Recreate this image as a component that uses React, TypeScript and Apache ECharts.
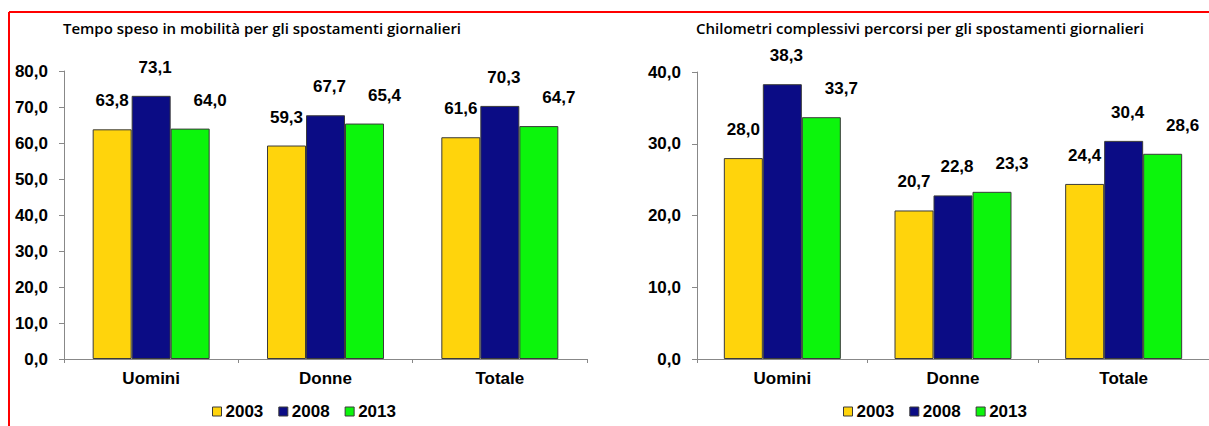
import React, { useEffect, useRef } from "react";
import * as echarts from "echarts";

const categories = ["Uomini", "Donne", "Totale"];
const years = ["2003", "2008", "2013"];

// Tempo speso in mobilità (minuti)
const tempo2003 = [63.8, 59.3, 61.6];
const tempo2008 = [73.1, 67.7, 70.3];
const tempo2013 = [64.0, 65.4, 64.7];

// Chilometri complessivi percorsi
const km2003 = [28.0, 20.7, 24.4];
const km2008 = [38.3, 22.8, 30.4];
const km2013 = [33.7, 23.3, 28.6];

const titleLeft = "Tempo speso in mobilità per gli spostamenti giornalieri";
const titleRight = "Chilometri complessivi percorsi per gli spostamenti giornalieri";

const colors = ["#FFD40C", "#0B0C85", "#0CF50C"];
const labelOffsets = [[0, 0], [4, 0], [20, 0]];

const fmt = (v: number) => v.toFixed(1).replace(".", ",");
const FONT = "'Liberation Sans', Arial, sans-serif";
const TITLE_FONT = "'Open Sans', 'Noto Sans', sans-serif";

export default function App() {
  const ref = useRef<HTMLDivElement>(null);

  useEffect(() => {
    if (!ref.current) return;
    const chart = echarts.init(ref.current, null, { renderer: "svg" });

    const textBold = { color: "#000", fontFamily: FONT, fontWeight: "bold" as const, fontSize: 17 };

    const makeX = (gridIndex: number) => ({
      type: "category" as const,
      gridIndex,
      data: categories,
      boundaryGap: true,
      axisLine: { show: true, lineStyle: { color: "#888", width: 1 } },
      axisTick: { show: true, alignWithLabel: false, length: 4, lineStyle: { color: "#888" } },
      axisLabel: { ...textBold, margin: 11 },
      splitLine: { show: false },
    });

    const makeY = (gridIndex: number, max: number) => ({
      type: "value" as const,
      gridIndex,
      min: 0,
      max,
      interval: 10,
      axisLine: { show: true, lineStyle: { color: "#888", width: 1 } },
      axisTick: { show: true, length: 5, lineStyle: { color: "#888" } },
      axisLabel: { ...textBold, margin: 16, formatter: (v: number) => fmt(v) },
      splitLine: { show: false },
    });

    const tempoData = [tempo2003, tempo2008, tempo2013];
    const kmData = [km2003, km2008, km2013];

    const makeSeries = (data: number[][], axisIndex: number) =>
      data.map((vals, i) => ({
        type: "bar" as const,
        name: years[i],
        xAxisIndex: axisIndex,
        yAxisIndex: axisIndex,
        data: vals,
        barWidth: 39,
        barGap: "0%",
        itemStyle: { color: colors[i], borderColor: "#3a3a3a", borderWidth: 1 },
        label: {
          show: true,
          position: "top" as const,
          distance: 20,
          offset: labelOffsets[i],
          ...textBold,
          formatter: (p: any) => fmt(p.value),
        },
      }));

    const legendBase = {
      data: years,
      icon: "rect",
      itemWidth: 9,
      itemHeight: 9,
      itemGap: 15,
      padding: 0,
      top: 403,
      itemStyle: { borderColor: "#3a3a3a", borderWidth: 1 },
      textStyle: { ...textBold, padding: [0, 0, 0, -1] },
    };

    const titleStyle = { color: "#000", fontFamily: TITLE_FONT, fontWeight: 600, fontSize: 15 };

    chart.setOption({
      animation: false,
      backgroundColor: "#fff",
      title: [
        {
          text: titleLeft,
          left: 262,
          top: 28,
          padding: 0,
          textAlign: "center",
          textVerticalAlign: "middle",
          textStyle: titleStyle,
        },
        {
          text: titleRight,
          left: 920,
          top: 28,
          padding: 0,
          textAlign: "center",
          textVerticalAlign: "middle",
          textStyle: titleStyle,
        },
      ],
      legend: [
        { ...legendBase, left: 212 },
        { ...legendBase, left: 843 },
      ],
      grid: [
        { left: 64, right: 622, top: 71, bottom: 67, containLabel: false },
        { left: 697, right: -9, top: 72, bottom: 67, containLabel: false },
      ],
      xAxis: [makeX(0), makeX(1)],
      yAxis: [makeY(0, 80), makeY(1, 40)],
      series: [...makeSeries(tempoData, 0), ...makeSeries(kmData, 1)],
      graphic: [
        { type: "line", shape: { x1: 9, y1: 12, x2: 1209, y2: 12 }, style: { stroke: "#F00", lineWidth: 2 }, silent: true },
        { type: "line", shape: { x1: 9, y1: 12, x2: 9, y2: 426 }, style: { stroke: "#F00", lineWidth: 2 }, silent: true },
      ],
    });

    return () => chart.dispose();
  }, []);

  return (
    <div
      ref={ref}
      style={{ position: "fixed", left: 0, top: 0, width: 1209, height: 426 }}
    />
  );
}
